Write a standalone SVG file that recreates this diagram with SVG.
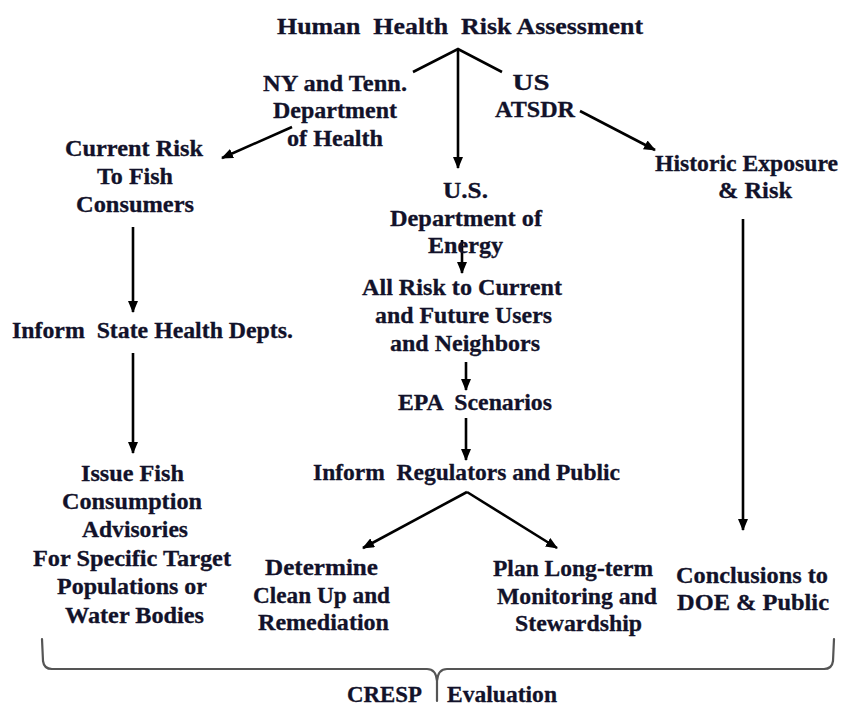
<svg xmlns="http://www.w3.org/2000/svg" width="842" height="707" viewBox="0 0 842 707">
  <style>
    .t { font-family: "Liberation Serif", "Times New Roman", serif; font-weight: bold; font-size: 24px; fill: #12122a; stroke: #12122a; stroke-width: 0.3; text-anchor: middle; }
    .ln { stroke: #000; stroke-width: 2.6; fill: none; }
    .ar { stroke: #000; stroke-width: 2.6; fill: none; marker-end: url(#head); }
    .brace { stroke: #555; stroke-width: 2.2; fill: none; stroke-linecap: round; stroke-linejoin: round; }
  </style>
  <defs>
    <marker id="head" markerUnits="userSpaceOnUse" markerWidth="12" markerHeight="10" refX="11" refY="5" orient="auto">
      <path d="M0,0 L12,5 L0,10 z" fill="#000"/>
    </marker>
  </defs>
  <rect width="842" height="707" fill="#fff"/>

  <!-- connectors -->
  <g id="connectors">
    <path class="ln" d="M413,72 L458,49 L502,72"/>
    <line class="ar" x1="458" y1="49" x2="458" y2="168"/>
    <line class="ar" x1="292" y1="127" x2="222" y2="158"/>
    <line class="ar" x1="580" y1="111" x2="655" y2="150"/>
    <line class="ar" x1="133" y1="227" x2="133" y2="312"/>
    <line class="ar" x1="133" y1="353" x2="133" y2="453"/>
    <line class="ar" x1="462" y1="240" x2="462" y2="273"/>
    <line class="ar" x1="466" y1="362" x2="466" y2="390"/>
    <line class="ar" x1="466" y1="418" x2="466" y2="460"/>
    <line class="ar" x1="467" y1="492" x2="363" y2="548"/>
    <line class="ar" x1="467" y1="492" x2="557" y2="548"/>
    <line class="ar" x1="743" y1="219" x2="743" y2="530"/>
  </g>

  <g id="hhra">
    <text class="t" x="460" y="34" textLength="366" lengthAdjust="spacingAndGlyphs" xml:space="preserve">Human  Health  Risk Assessment</text>
  </g>

  <g id="state-health">
    <text class="t" x="335" y="91" textLength="144" lengthAdjust="spacingAndGlyphs">NY and Tenn.</text>
    <text class="t" x="335" y="118" textLength="124" lengthAdjust="spacingAndGlyphs">Department</text>
    <text class="t" x="335" y="146" textLength="96" lengthAdjust="spacingAndGlyphs">of Health</text>
  </g>

  <g id="atsdr">
    <text class="t" x="531" y="90" textLength="37" lengthAdjust="spacingAndGlyphs">US</text>
    <text class="t" x="535" y="117" textLength="80" lengthAdjust="spacingAndGlyphs">ATSDR</text>
  </g>

  <g id="current-risk">
    <text class="t" x="134" y="156" textLength="138" lengthAdjust="spacingAndGlyphs">Current Risk</text>
    <text class="t" x="135" y="184" textLength="76" lengthAdjust="spacingAndGlyphs">To Fish</text>
    <text class="t" x="135" y="212" textLength="118" lengthAdjust="spacingAndGlyphs">Consumers</text>
  </g>

  <g id="inform-state">
    <text class="t" x="152.5" y="338" textLength="281" lengthAdjust="spacingAndGlyphs" xml:space="preserve">Inform  State Health Depts.</text>
  </g>

  <g id="advisories">
    <text class="t" x="132.5" y="481" textLength="103" lengthAdjust="spacingAndGlyphs">Issue Fish</text>
    <text class="t" x="132" y="509" textLength="140" lengthAdjust="spacingAndGlyphs">Consumption</text>
    <text class="t" x="135" y="537" textLength="106" lengthAdjust="spacingAndGlyphs">Advisories</text>
    <text class="t" x="132" y="566" textLength="198" lengthAdjust="spacingAndGlyphs">For Specific Target</text>
    <text class="t" x="132" y="594" textLength="150" lengthAdjust="spacingAndGlyphs">Populations or</text>
    <text class="t" x="134.5" y="623" textLength="139" lengthAdjust="spacingAndGlyphs">Water Bodies</text>
  </g>

  <g id="doe">
    <text class="t" x="465.5" y="198" textLength="45" lengthAdjust="spacingAndGlyphs">U.S.</text>
    <text class="t" x="466" y="226" textLength="152" lengthAdjust="spacingAndGlyphs">Department of</text>
    <text class="t" x="465.5" y="253" textLength="75" lengthAdjust="spacingAndGlyphs">Energy</text>
  </g>

  <g id="all-risk">
    <text class="t" x="462" y="295" textLength="200" lengthAdjust="spacingAndGlyphs">All Risk to Current</text>
    <text class="t" x="463.5" y="323" textLength="177" lengthAdjust="spacingAndGlyphs">and Future Users</text>
    <text class="t" x="465" y="351" textLength="150" lengthAdjust="spacingAndGlyphs">and Neighbors</text>
  </g>

  <g id="epa">
    <text class="t" x="475" y="410" textLength="154" lengthAdjust="spacingAndGlyphs" xml:space="preserve">EPA  Scenarios</text>
  </g>

  <g id="inform-regulators">
    <text class="t" x="466.5" y="480" textLength="307" lengthAdjust="spacingAndGlyphs" xml:space="preserve">Inform  Regulators and Public</text>
  </g>

  <g id="cleanup">
    <text class="t" x="321.5" y="575" textLength="113" lengthAdjust="spacingAndGlyphs">Determine</text>
    <text class="t" x="321.5" y="603" textLength="137" lengthAdjust="spacingAndGlyphs">Clean Up and</text>
    <text class="t" x="323.5" y="630" textLength="131" lengthAdjust="spacingAndGlyphs">Remediation</text>
  </g>

  <g id="monitoring">
    <text class="t" x="573" y="576" textLength="160" lengthAdjust="spacingAndGlyphs">Plan Long-term</text>
    <text class="t" x="577" y="604" textLength="160" lengthAdjust="spacingAndGlyphs">Monitoring and</text>
    <text class="t" x="578.5" y="631" textLength="127" lengthAdjust="spacingAndGlyphs">Stewardship</text>
  </g>

  <g id="historic">
    <text class="t" x="746.5" y="171" textLength="183" lengthAdjust="spacingAndGlyphs">Historic Exposure</text>
    <text class="t" x="755" y="198" textLength="74" lengthAdjust="spacingAndGlyphs">&amp; Risk</text>
  </g>

  <g id="conclusions">
    <text class="t" x="752" y="583" textLength="152" lengthAdjust="spacingAndGlyphs">Conclusions to</text>
    <text class="t" x="753" y="610" textLength="152" lengthAdjust="spacingAndGlyphs">DOE &amp; Public</text>
  </g>

  <!-- bracket spanning all outcomes -->
  <g id="cresp">
    <path class="brace" d="M42,639 L43,661 Q44,669 52,669 L427,669 Q436,669 437,681 L437,701 M437,681 Q438,669 447,669 L824,669 Q832,669 833,661 L834,639"/>
    <text class="t" x="384.5" y="702" textLength="75" lengthAdjust="spacingAndGlyphs">CRESP</text>
    <text class="t" x="502" y="702" textLength="110" lengthAdjust="spacingAndGlyphs">Evaluation</text>
  </g>
</svg>
